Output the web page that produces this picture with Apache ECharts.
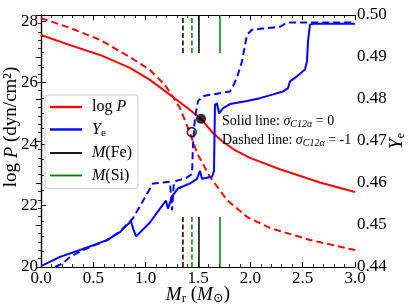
<!DOCTYPE html>
<html><head><meta charset="utf-8">
<script src="https://cdn.jsdelivr.net/npm/echarts@6/dist/echarts.min.js"></script>
<style>html,body{margin:0;padding:0;background:#fff}#c{width:409px;height:307px}</style>
</head><body><div id="c"></div>
<script>
// ---- data ----
const pMassSolid = [0, 0.277, 0.564, 0.850, 1.041, 1.261, 1.424, 1.529, 1.643, 1.729, 1.853, 1.997, 2.283, 2.666, 3.0];
const logPSolid  = [27.55, 27.22, 26.90, 26.48, 26.09, 25.53, 25.11, 24.82, 24.36, 24.10, 23.80, 23.55, 23.18, 22.75, 22.44];

const pMassDashed = [0, 0.277, 0.564, 0.850, 1.041, 1.185, 1.261, 1.328, 1.424, 1.490, 1.615, 1.777, 1.968, 2.188, 2.570, 3.0];
const logPDashed  = [28.10, 27.78, 27.39, 26.83, 26.41, 25.92, 25.53, 25.17, 24.36, 23.71, 22.93, 22.18, 21.63, 21.27, 20.88, 20.55];

const yeMassSolid = [0, 0.182, 0.401, 0.631, 0.755, 0.831, 0.860, 0.879, 0.908, 1.041, 1.137, 1.194, 1.213, 1.252, 1.309, 1.424, 1.490, 1.519, 1.538, 1.634, 1.653, 1.662, 1.681, 1.701, 1.739, 1.806, 1.968, 2.092, 2.217, 2.312, 2.360, 2.379, 2.446, 2.522, 2.541, 2.551, 2.570, 2.599, 3.0];
const yeSolid     = [0.4402, 0.4424, 0.4443, 0.4464, 0.4483, 0.4502, 0.4509, 0.4492, 0.4473, 0.4506, 0.4539, 0.4558, 0.4539, 0.4568, 0.4587, 0.4599, 0.4610, 0.4629, 0.4610, 0.4615, 0.4629, 0.4785, 0.4790, 0.4766, 0.4778, 0.4788, 0.4795, 0.4802, 0.4811, 0.4818, 0.4826, 0.4842, 0.4854, 0.4870, 0.4889, 0.4937, 0.4977, 0.4979, 0.4979];

const yeMassDashed = [0.134, 0.21, 0.277, 0.40, 0.631, 0.755, 0.831, 0.879, 0.975, 1.070, 1.166, 1.232, 1.252, 1.27, 1.395, 1.443, 1.452, 1.471, 1.50, 1.548, 1.806, 1.834, 1.873, 1.92, 1.968, 2.016, 2.092, 2.283, 2.331, 2.379, 3.0];
const yeDashed     = [0.4400, 0.4409, 0.4424, 0.4440, 0.4464, 0.4485, 0.4504, 0.4516, 0.4558, 0.4599, 0.4601, 0.4603, 0.4535, 0.4603, 0.4613, 0.4622, 0.4690, 0.4755, 0.4795, 0.4807, 0.4818, 0.4830, 0.4852, 0.4889, 0.4953, 0.4965, 0.4967, 0.4972, 0.4979, 0.4982, 0.4982];

// core-mass markers: M(Fe) dashed, M(Si) dashed, M(Fe) solid, M(Si) solid
const markerMass = [1.356, 1.442, 1.509, 1.71];
const bottomSeg = [20, 21.63];
const topSeg = [26.96, 28.2];

// circles on log P curves
const circleSolid = [1.529, 24.82];
const circleDashed = [1.44, 24.39];

const xTicks = [0, 3, 0.5];
const yLeftTicks = [20, 28.2, 2];
const yRightTicks = [0.44, 0.50, 0.01];

const legendNames = ['logP', 'Ye', 'MFe', 'MSi'];
const legendLabels = {logP: 'log {i|P}', Ye: '{i|Y}{sub|e}', MFe: '{i|M}(Fe)', MSi: '{i|M}(Si)'};

// ---- chart ----
const FF = '"Liberation Serif","DejaVu Serif",serif';
const zip = (a, b) => a.map((v, i) => [v, b[i]]);
const chart = echarts.init(document.getElementById('c'), null, {renderer: 'canvas'});

function seg(name, m, color, dashed) {
  return {
    type: 'line', name, xAxisIndex: 0, yAxisIndex: 0, symbol: 'none', silent: true, z: 1,
    data: [[m, bottomSeg[0]], [m, bottomSeg[1]], [m, '-'], [m, topSeg[0]], [m, topSeg[1]]],
    connectNulls: false,
    itemStyle: {color},
    lineStyle: {color, width: 1.5, type: dashed ? [5, 2.5] : 'solid'}
  };
}
const axisCommon = {
  axisLine: {lineStyle: {color: '#000', width: 1.2}},
  axisTick: {inside: true, length: 5, lineStyle: {color: '#000', width: 1}},
  minorTick: {show: true, length: 3, lineStyle: {color: '#000', width: 0.8}},
  splitLine: {show: false}
};
const thick = 'path://M0,0H32V2.4H0Z';
const thin = 'path://M0,0H32V1.8H0Z';

chart.setOption({
  animation: false,
  backgroundColor: '#fff',
  grid: {left: 41, right: 54, top: 15, bottom: 40, containLabel: false, outerBoundsMode: 'none'},
  legend: {
    data: [
      {name: 'logP', icon: thick}, {name: 'Ye', icon: thick},
      {name: 'MFe', icon: thin}, {name: 'MSi', icon: thin}
    ],
    left: 45, top: 95, orient: 'vertical',
    padding: [4, 6, 5, 5], itemGap: 6.5, itemWidth: 32, itemHeight: 14, symbolKeepAspect: true,
    backgroundColor: 'rgba(255,255,255,0.8)', borderColor: '#cccccc', borderWidth: 1, borderRadius: 3,
    formatter: n => legendLabels[n],
    textStyle: {fontFamily: FF, fontSize: 16, color: '#000', padding: [0, 0, 0, 5],
      rich: {i: {fontStyle: 'italic', fontFamily: FF, fontSize: 16}, sub: {fontSize: 11, fontFamily: FF, padding: [7, 0, 0, 0]}}}
  },
  xAxis: [
    Object.assign({}, axisCommon, {
      type: 'value', position: 'bottom', min: xTicks[0], max: xTicks[1], interval: xTicks[2],
      minorTick: Object.assign({}, axisCommon.minorTick, {splitNumber: 5}),
      axisLabel: {color: '#000', fontSize: 17, fontFamily: FF, margin: 3, formatter: v => v.toFixed(1)},
      name: '{i|M}{sub|r} ({i|M}{sub|⊙})', nameLocation: 'middle', nameGap: 17, nameMoveOverlap: false,
      nameTextStyle: {fontSize: 19, fontFamily: FF, color: '#000',
        rich: {i: {fontStyle: 'italic', fontSize: 19, fontFamily: FF}, sub: {fontSize: 13, fontFamily: FF, padding: [8, 0, 0, 0]}}}
    }),
    Object.assign({}, axisCommon, {
      type: 'value', position: 'top', min: xTicks[0], max: xTicks[1], interval: xTicks[2],
      minorTick: Object.assign({}, axisCommon.minorTick, {splitNumber: 5}),
      axisLabel: {show: false}
    })
  ],
  yAxis: [
    Object.assign({}, axisCommon, {
      type: 'value', position: 'left', min: yLeftTicks[0], max: yLeftTicks[1], interval: yLeftTicks[2],
      minorTick: Object.assign({}, axisCommon.minorTick, {splitNumber: 4}),
      axisLabel: {color: '#000', fontSize: 17, fontFamily: FF, margin: 3,
        formatter: v => (Math.abs(v - Math.round(v)) < 1e-6 ? String(Math.round(v)) : '')},
      name: 'log {i|P} (dyn/cm²)', nameLocation: 'middle', nameGap: 20, nameRotate: 90, nameMoveOverlap: false,
      nameTextStyle: {fontSize: 19, fontFamily: FF, color: '#000', padding: [0, 0, 0, 28],
        rich: {i: {fontStyle: 'italic', fontSize: 19, fontFamily: FF}}}
    }),
    Object.assign({}, axisCommon, {
      type: 'value', position: 'right', min: yRightTicks[0], max: yRightTicks[1], interval: yRightTicks[2],
      minorTick: Object.assign({}, axisCommon.minorTick, {splitNumber: 5}),
      axisLabel: {color: '#000', fontSize: 17, fontFamily: FF, margin: 2, formatter: v => v.toFixed(2)},
      name: '{i|Y}{sub|e}', nameLocation: 'middle', nameGap: 31, nameRotate: 90, nameMoveOverlap: false,
      nameTextStyle: {fontSize: 19, fontFamily: FF, color: '#000',
        rich: {i: {fontStyle: 'italic', fontSize: 19, fontFamily: FF}, sub: {fontSize: 13, fontFamily: FF, padding: [8, 0, 0, 0]}}}
    })
  ],
  graphic: [
    {type: 'text', left: 222, top: 114, z: 10,
     style: {text: 'Solid line: {i|σ}{sub|C12α} = 0', fontFamily: FF, fontSize: 14, fill: '#000', rich: {
       i: {fontStyle: 'italic', fontFamily: FF, fontSize: 14}, sub: {fontStyle: 'italic', fontFamily: FF, fontSize: 10, padding: [6, 0, 0, 0]}}}},
    {type: 'text', left: 222, top: 133, z: 10,
     style: {text: 'Dashed line: {i|σ}{sub|C12α} = -1', fontFamily: FF, fontSize: 14, fill: '#000', rich: {
       i: {fontStyle: 'italic', fontFamily: FF, fontSize: 14}, sub: {fontStyle: 'italic', fontFamily: FF, fontSize: 10, padding: [6, 0, 0, 0]}}}}
  ],
  series: [
    seg('MFe_d', markerMass[0], '#000000', true),
    seg('MSi_d', markerMass[1], '#008000', true),
    seg('MFe', markerMass[2], '#000000', false),
    seg('MSi', markerMass[3], '#008000', false),
    {type: 'line', name: 'logP', yAxisIndex: 0, symbol: 'none', data: zip(pMassSolid, logPSolid), lineStyle: {color: '#ff0000', width: 2}, itemStyle: {color: '#ff0000'}, z: 2},
    {type: 'line', name: 'logP_d', yAxisIndex: 0, symbol: 'none', data: zip(pMassDashed, logPDashed), lineStyle: {color: '#ff0000', width: 2, type: [7, 4]}, itemStyle: {color: '#ff0000'}, z: 2},
    {type: 'line', name: 'Ye', yAxisIndex: 1, symbol: 'none', data: zip(yeMassSolid, yeSolid), lineStyle: {color: '#0000ff', width: 2}, itemStyle: {color: '#0000ff'}, z: 3},
    {type: 'line', name: 'Ye_d', yAxisIndex: 1, symbol: 'none', data: zip(yeMassDashed, yeDashed), lineStyle: {color: '#0000ff', width: 2, type: [7, 4]}, itemStyle: {color: '#0000ff'}, z: 3},
    {type: 'scatter', name: 'cSolid', yAxisIndex: 0, symbol: 'circle', symbolSize: 10, data: [circleSolid], itemStyle: {color: '#000'}, z: 5},
    {type: 'scatter', name: 'cDashed', yAxisIndex: 0, symbol: 'circle', symbolSize: 9, data: [circleDashed], itemStyle: {color: 'rgba(0,0,0,0)', borderColor: '#000', borderWidth: 1.6}, z: 5}
  ]
});
</script>
</body></html>
